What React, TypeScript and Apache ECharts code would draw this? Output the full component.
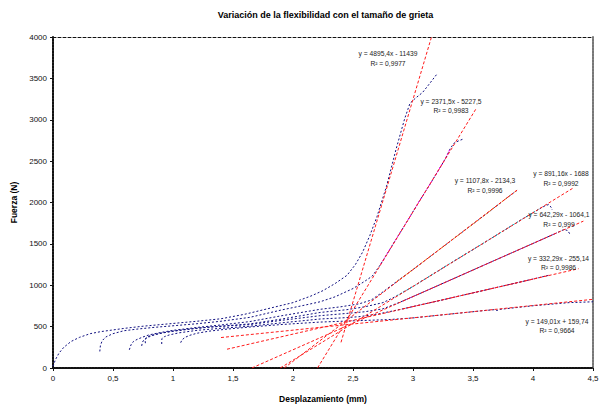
import { useEffect, useRef } from 'react';
import * as echarts from 'echarts';

// ---------- DATA ----------
const titleText = 'Variación de la flexibilidad con el tamaño de grieta';
const xAxisName = 'Desplazamiento (mm)';
const yAxisName = 'Fuerza (N)';

// Experimental curves (Desplazamiento mm, Fuerza N)
const curveA: number[][] = [
  [0, 20], [0.02, 100], [0.05, 180], [0.09, 250], [0.15, 320], [0.22, 370], [0.31, 415], [0.4, 440],
  [0.5, 460], [0.6, 480], [0.75, 505], [0.9, 525], [1.05, 545], [1.2, 565], [1.4, 595], [1.6, 650],
  [1.8, 720], [2.0, 790], [2.15, 870], [2.25, 935], [2.35, 1020], [2.45, 1120], [2.52, 1250],
  [2.58, 1400], [2.64, 1600], [2.7, 1830], [2.78, 2200], [2.86, 2650], [2.93, 3010], [2.975, 3200],
  [3.02, 3260], [3.08, 3330], [3.14, 3440], [3.2, 3553],
];
const curveB: number[][] = [
  [0.39, 200], [0.395, 270], [0.41, 330], [0.44, 375], [0.5, 415], [0.59, 450], [0.7, 470], [0.85, 492],
  [1.0, 510], [1.2, 535], [1.4, 565], [1.64, 612], [1.9, 700], [2.1, 760], [2.225, 800], [2.35, 860],
  [2.5, 960], [2.6, 1050], [2.66, 1110], [2.72, 1230], [2.78, 1370], [2.86, 1560], [2.95, 1770],
  [3.05, 2010], [3.12, 2170], [3.2, 2360], [3.27, 2530], [3.31, 2650], [3.34, 2715], [3.38, 2745],
  [3.42, 2768],
];
const curveC: number[][] = [
  [0.636, 220], [0.65, 280], [0.67, 320], [0.7, 345], [0.75, 375], [0.8, 400], [0.9, 430], [1.0, 455],
  [1.2, 490], [1.4, 520], [1.64, 561], [1.9, 630], [2.225, 709], [2.4, 740], [2.55, 775], [2.65, 820],
  [2.75, 920], [2.85, 1030], [3.0, 1190], [3.2, 1410], [3.4, 1630], [3.6, 1850], [3.8, 2075], [3.87, 2150],
];
const curveD: number[][] = [
  [0.739, 267], [0.745, 310], [0.755, 335], [0.767, 345], [0.78, 360], [0.82, 390], [0.9, 420], [1.0, 445],
  [1.2, 480], [1.4, 505], [1.64, 533], [1.9, 590], [2.225, 671], [2.45, 705], [2.6, 740], [2.75, 790],
  [2.85, 860], [3.0, 985], [3.3, 1255], [3.6, 1520], [3.9, 1790], [4.05, 1920], [4.1, 1960], [4.13, 1975],
  [4.15, 1945], [4.16, 1910],
];
const curveE: number[][] = [
  [0.77, 300], [0.768, 330], [0.77, 350], [0.775, 365], [0.8, 385], [0.86, 410], [0.95, 435], [1.1, 465],
  [1.3, 495], [1.64, 525], [1.9, 575], [2.225, 632], [2.45, 660], [2.6, 680], [2.75, 715], [2.9, 800],
  [3.1, 927], [3.4, 1120], [3.7, 1313], [4.0, 1505], [4.2, 1634], [4.26, 1675], [4.29, 1660], [4.31, 1612],
];
const curveF: number[][] = [
  [0.906, 290], [0.906, 330], [0.908, 357], [0.93, 380], [0.97, 400], [1.05, 425], [1.2, 455], [1.4, 480],
  [1.64, 505], [1.9, 545], [2.225, 592], [2.4, 605], [2.55, 620], [2.7, 650], [2.9, 710], [3.2, 808],
  [3.5, 908], [3.8, 1008], [4.0, 1075], [4.13, 1120],
];
const curveG: number[][] = [
  [1.064, 306], [1.075, 340], [1.1, 370], [1.142, 396], [1.2, 420], [1.3, 445], [1.45, 470], [1.64, 495],
  [1.9, 525], [2.225, 555], [2.5, 570], [2.8, 585], [3.0, 605], [3.3, 650], [3.6, 695], [3.68, 705],
  [3.7, 695], [3.72, 708], [4.0, 752], [4.3, 790], [4.5, 800],
];
const curves = [curveA, curveB, curveC, curveD, curveE, curveF, curveG];

// Fitted (linear) range of each curve, highlighted in colour
const fitCurve = [1, 2, 3, 4, 5];
const fitFrom = [2.72, 2.85, 2.85, 2.9, 2.9];
const fitTo = [3.31, 3.87, 4.05, 4.2, 4.13];

// Trendlines: start and end points (mm, N)
const trendStart: number[][] = [[2.4, 310], [2.205, 2], [1.927, 0], [1.894, 0], [1.657, 0], [1.45, 227], [1.4, 368]];
const trendEnd: number[][] = [[3.154, 4000], [3.53, 3144], [3.88, 2164], [4.33, 2171], [4.42, 1775], [4.38, 1200], [4.5, 830]];
const trendEq = [
  'y = 4895,4x - 11439',
  'y = 2371,5x - 5227,5',
  'y = 1107,8x - 2134,3',
  'y = 891,16x - 1688',
  'y = 642,29x - 1064,1',
  'y = 332,29x - 255,14',
  'y = 149,01x + 159,74',
];
const trendR2 = ['R² = 0,9977', 'R² = 0,9983', 'R² = 0,9996', 'R² = 0,9992', 'R² = 0,999', 'R² = 0,9986', 'R² = 0,9664'];

// ---------- STYLE ----------
const FONT = '"Liberation Sans", Arial, Helvetica, sans-serif';
const fitColors = ['#ff00ff', '#ff8c00', '#00c8c8', '#8000a0', '#c00050'];
const labelPos: number[][] = [[388, 54], [451, 101.7], [485, 181], [561, 174], [559, 215], [558.5, 258.3], [557, 321.7]];

export default function App() {
  const ref = useRef<HTMLDivElement>(null);
  useEffect(() => {
    if (!ref.current) return;
    const chart = echarts.init(ref.current, null, { renderer: 'svg' });
    const fmt = (v: number) => String(v).replace('.', ',');

    const series: any[] = [];
    curves.forEach((c, i) => {
      series.push({
        type: 'line', name: 'c' + i, data: c, showSymbol: false, silent: true,
        lineStyle: { color: '#101080', width: 1, type: [2, 2] }, z: 2,
      });
    });
    fitCurve.forEach((ci, k) => {
      series.push({
        type: 'line', name: 'f' + k,
        data: curves[ci].filter((p) => p[0] >= fitFrom[k] && p[0] <= fitTo[k]),
        showSymbol: false, silent: true,
        lineStyle: { color: fitColors[k], width: 1, type: [2, 2], dashOffset: 2 }, z: 3,
      });
    });
    trendStart.forEach((s, i) => {
      series.push({
        type: 'line', name: 't' + i, data: [s, trendEnd[i]], showSymbol: false, silent: true,
        lineStyle: { color: '#ff1a1a', width: 1, type: [3, 2] }, z: 4,
      });
    });

    const graphics: any[] = [
      {
        type: 'text', x: 325.5, y: 15,
        style: { text: titleText, font: `bold 9px ${FONT}`, fill: '#000', textAlign: 'center', textVerticalAlign: 'middle' },
      },
    ];
    trendEq.forEach((eq, i) => {
      graphics.push({
        type: 'text', x: labelPos[i][0], y: labelPos[i][1] - 4.65, z: 10,
        style: {
          text: eq + '\n' + trendR2[i], font: `6.7px ${FONT}`, fill: '#222',
          textAlign: 'center', textVerticalAlign: 'top', lineHeight: 9.3,
        },
      });
    });

    chart.setOption({
      animation: false,
      backgroundColor: '#fff',
      grid: { left: 53, right: 10, top: 37, bottom: 31 },
      xAxis: [
        {
          type: 'value', min: 0, max: 4.5, interval: 0.5,
          name: xAxisName, nameLocation: 'middle', nameGap: 26,
          nameTextStyle: { fontFamily: FONT, fontWeight: 'bold', fontSize: 8.5, color: '#000' },
          axisLine: { show: true, onZero: false, lineStyle: { color: '#111', width: 2, type: [2, 1] } },
          axisTick: { show: true, length: 3, lineStyle: { color: '#111' } },
          axisLabel: { formatter: fmt, fontFamily: FONT, fontSize: 8, color: '#111', margin: 6 },
          splitLine: { show: false },
        },
        {
          type: 'value', min: 0, max: 4.5, position: 'top',
          axisLine: { show: true, onZero: false, lineStyle: { color: '#111', width: 1, type: [3, 2] } },
          axisTick: { show: false }, axisLabel: { show: false }, splitLine: { show: false },
        },
      ],
      yAxis: [
        {
          type: 'value', min: 0, max: 4000, interval: 500,
          name: yAxisName, nameLocation: 'middle', nameGap: 33,
          nameTextStyle: { fontFamily: FONT, fontWeight: 'bold', fontSize: 8.5, color: '#000' },
          axisLine: { show: true, onZero: false, lineStyle: { color: '#111', width: 2, type: [2, 1] } },
          axisTick: { show: true, length: 3, lineStyle: { color: '#111' } },
          axisLabel: { formatter: (v: number) => String(v), fontFamily: FONT, fontSize: 8, color: '#111', margin: 6 },
          splitLine: { show: false },
        },
        {
          type: 'value', min: 0, max: 4000, position: 'right',
          axisLine: { show: true, onZero: false, lineStyle: { color: '#777', width: 2, type: [2, 1] } },
          axisTick: { show: false }, axisLabel: { show: false }, splitLine: { show: false },
        },
      ],
      series,
      graphic: graphics,
    });
    return () => chart.dispose();
  }, []);
  return (
    <div
      ref={ref}
      style={{ position: 'absolute', left: 0, top: 0, width: 603, height: 408, background: '#fff' }}
    />
  );
}
